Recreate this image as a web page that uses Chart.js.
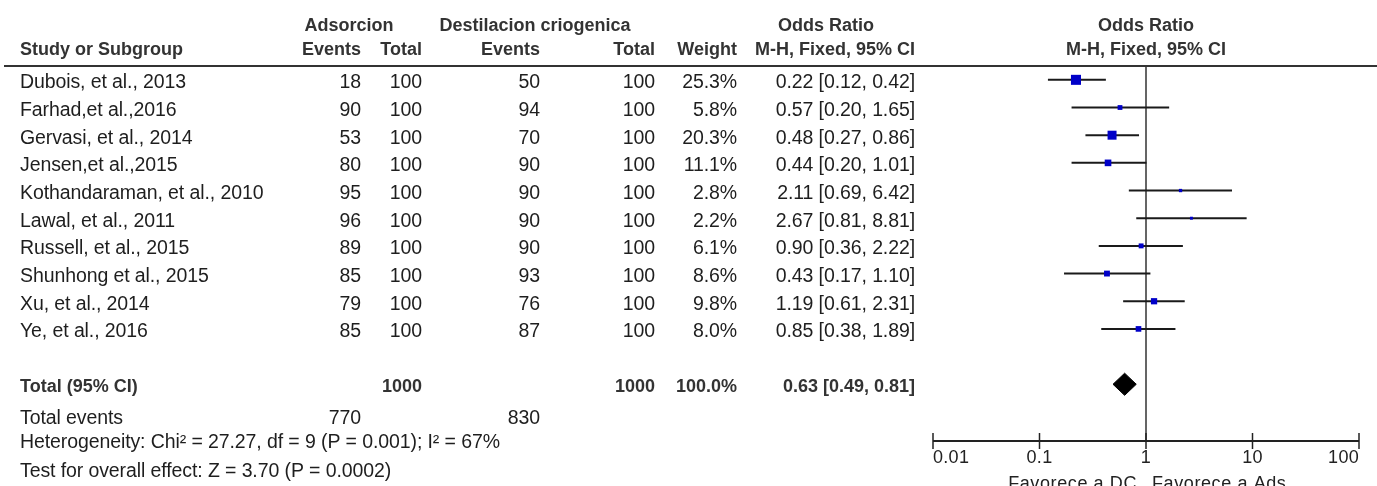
<!DOCTYPE html>
<html><head><meta charset="utf-8">
<script src="https://cdn.jsdelivr.net/npm/chart.js@4.4.1/dist/chart.umd.min.js"></script>
<style>html,body{margin:0;padding:0;background:#fff;overflow:hidden}canvas{display:block}</style>
</head><body>
<canvas id="c" width="1377" height="486"></canvas>
<script>
// ---- data ----
const studies = ["Dubois, et al., 2013","Farhad,et al.,2016","Gervasi, et al., 2014","Jensen,et al.,2015","Kothandaraman, et al., 2010","Lawal, et al., 2011","Russell, et al., 2015","Shunhong et al., 2015","Xu, et al., 2014","Ye, et al., 2016"];
const adsEvents = [18,90,53,80,95,96,89,85,79,85];
const adsTotal = [100,100,100,100,100,100,100,100,100,100];
const dcEvents = [50,94,70,90,90,90,90,93,76,87];
const dcTotal = [100,100,100,100,100,100,100,100,100,100];
const weights = [25.3,5.8,20.3,11.1,2.8,2.2,6.1,8.6,9.8,8.0];
const oddsRatio = [0.22,0.57,0.48,0.44,2.11,2.67,0.90,0.43,1.19,0.85];
const ciLow = [0.12,0.20,0.27,0.20,0.69,0.81,0.36,0.17,0.61,0.38];
const ciHigh = [0.42,1.65,0.86,1.01,6.42,8.81,2.22,1.10,2.31,1.89];
const totalLabel = "Total (95% CI)";
const totalAdsN = 1000, totalDcN = 1000, totalWeight = 100.0;
const totalOR = 0.63, totalLow = 0.49, totalHigh = 0.81;
const totalAdsEvents = 770, totalDcEvents = 830;
const heterogeneityText = "Heterogeneity: Chi\u00B2 = 27.27, df = 9 (P = 0.001); I\u00B2 = 67%";
const overallEffectText = "Test for overall effect: Z = 3.70 (P = 0.0002)";
const xTicks = [0.01, 0.1, 1, 10, 100];
const xTickLabels = ["0.01","0.1","1","10","100"];
const favourLeft = "Favorece a DC", favourRight = "Favorece a Ads";
const groupHeaders = ["Adsorcion","Destilacion criogenica","Odds Ratio"];
const colHeaders = ["Study or Subgroup","Events","Total","Events","Total","Weight","M-H, Fixed, 95% CI"];

// ---- layout ----
const TOTAL_ROW = studies.length + 1;
const FONT = '"Liberation Sans", Arial, sans-serif';
const COL = {study:20, adsEv:361, adsTot:422, dcEv:540, dcTot:655, weight:737, or:915, adsHead:349, dcHead:535, orHead:826};
const fmt2 = v => v.toFixed(2);
const orText = (o,l,h) => fmt2(o) + " [" + fmt2(l) + ", " + fmt2(h) + "]";

const datasets = [];
datasets.push({
  label:"OR", data: oddsRatio.map((v,i)=>({x:v,y:i})),
  pointStyle:"rect", backgroundColor:"#0000c8", borderWidth:0,
  pointRadius: c => 1.41*Math.sqrt(weights[c.dataIndex] || 0), showLine:false
});
datasets.push({
  label:"Total", showLine:true, pointRadius:0, borderColor:"#000", backgroundColor:"#000", borderWidth:1, fill:"shape",
  data:[{x:totalLow,y:TOTAL_ROW},{x:totalOR,y:TOTAL_ROW-0.4},{x:totalHigh,y:TOTAL_ROW},{x:totalOR,y:TOTAL_ROW+0.4},{x:totalLow,y:TOTAL_ROW}]
});
studies.forEach((s,i)=>{
  datasets.push({label:"CI "+s, showLine:true, pointRadius:0, borderColor:"#1a1a1a", borderWidth:2,
    data:[{x:ciLow[i],y:i},{x:ciHigh[i],y:i}]});
});
datasets.push({label:"null", showLine:true, pointRadius:0, borderColor:"#333", borderWidth:1.5,
  data:[{x:1,y:-0.5},{x:1,y:13.05}]});

const tablePlugin = {
  id:"forestTable",
  afterDraw(chart){
    const ctx = chart.ctx, xs = chart.scales.x, ys = chart.scales.y, a = chart.chartArea;
    const txt = (s,x,yv,align,bold,dy) => {
      ctx.font = (bold?"bold 18px ":"19.5px ") + FONT;
      ctx.letterSpacing = bold ? "0px" : "-0.1px";
      ctx.textAlign = align; ctx.textBaseline = "middle";
      ctx.fillStyle = bold ? "#333" : "#1e1e1e";
      ctx.fillText(s, x, ys.getPixelForValue(yv) + (dy||0));
    };
    ctx.save();
    // header line
    ctx.strokeStyle = "#333"; ctx.lineWidth = 2;
    ctx.beginPath(); ctx.moveTo(4, a.top); ctx.lineTo(1377, a.top); ctx.stroke();
    // headers
    const h1 = -2.0, h2 = -1.13, hd = 1.5;
    const pc = xs.getPixelForValue(1);
    txt(groupHeaders[0], COL.adsHead, h1, "center", true, hd);
    txt(groupHeaders[1], COL.dcHead, h1, "center", true, hd);
    txt(groupHeaders[2], COL.orHead, h1, "center", true, hd);
    txt(groupHeaders[2], pc, h1, "center", true, hd);
    txt(colHeaders[0], COL.study, h2, "left", true, hd);
    txt(colHeaders[1], COL.adsEv, h2, "right", true, hd);
    txt(colHeaders[2], COL.adsTot, h2, "right", true, hd);
    txt(colHeaders[3], COL.dcEv, h2, "right", true, hd);
    txt(colHeaders[4], COL.dcTot, h2, "right", true, hd);
    txt(colHeaders[5], COL.weight, h2, "right", true, hd);
    txt(colHeaders[6], COL.or, h2, "right", true, hd);
    txt(colHeaders[6], pc, h2, "center", true, hd);
    // rows
    const rd = 3;
    studies.forEach((s,i)=>{
      txt(s, COL.study, i, "left", false, rd);
      txt(String(adsEvents[i]), COL.adsEv, i, "right", false, rd);
      txt(String(adsTotal[i]), COL.adsTot, i, "right", false, rd);
      txt(String(dcEvents[i]), COL.dcEv, i, "right", false, rd);
      txt(String(dcTotal[i]), COL.dcTot, i, "right", false, rd);
      txt(weights[i].toFixed(1)+"%", COL.weight, i, "right", false, rd);
      txt(orText(oddsRatio[i],ciLow[i],ciHigh[i]), COL.or, i, "right", false, rd);
    });
    // total
    txt(totalLabel, COL.study, TOTAL_ROW, "left", true, 2.5);
    txt(String(totalAdsN), COL.adsTot, TOTAL_ROW, "right", true, 2.5);
    txt(String(totalDcN), COL.dcTot, TOTAL_ROW, "right", true, 2.5);
    txt(totalWeight.toFixed(1)+"%", COL.weight, TOTAL_ROW, "right", true, 2.5);
    txt(orText(totalOR,totalLow,totalHigh), COL.or, TOTAL_ROW, "right", true, 2.5);
    txt("Total events", COL.study, 12.17, "left", false, 1.5);
    txt(String(totalAdsEvents), COL.adsEv, 12.17, "right", false, 1.5);
    txt(String(totalDcEvents), COL.dcEv, 12.17, "right", false, 1.5);
    txt(heterogeneityText, COL.study, 13.07, "left", false, 1.5);
    txt(overallEffectText, COL.study, 14.1, "left", false, 1.5);
    // axis
    const ay = a.bottom;
    const x0 = xs.getPixelForValue(xTicks[0]), x1 = xs.getPixelForValue(xTicks[xTicks.length-1]);
    ctx.strokeStyle = "#222"; ctx.lineWidth = 2;
    ctx.beginPath(); ctx.moveTo(x0, ay); ctx.lineTo(x1, ay); ctx.stroke();
    ctx.lineWidth = 1.5;
    xs.ticks.forEach((t,i)=>{
      const px = xs.getPixelForValue(t.value);
      ctx.beginPath(); ctx.moveTo(px, ay-8); ctx.lineTo(px, ay+8); ctx.stroke();
      ctx.font = "18px " + FONT; ctx.letterSpacing = "0.3px";
      ctx.fillStyle = "#222"; ctx.textBaseline = "middle";
      ctx.textAlign = i===0 ? "left" : (i===xs.ticks.length-1 ? "right" : "center");
      ctx.fillText(xTickLabels[i], px, ay+17);
    });
    ctx.font = "18px " + FONT; ctx.letterSpacing = "0.6px"; ctx.fillStyle = "#222"; ctx.textBaseline = "top";
    ctx.textAlign = "right"; ctx.fillText(favourLeft, pc-9, ay+34);
    ctx.textAlign = "left"; ctx.fillText(favourRight, pc+6, ay+34);
    ctx.restore();
  }
};

new Chart(document.getElementById("c"), {
  type:"scatter",
  data:{datasets},
  options:{
    responsive:false, animation:false, devicePixelRatio:1,
    layout:{padding:{left:933, right:18, top:66, bottom:45}},
    plugins:{legend:{display:false}, tooltip:{enabled:false}},
    scales:{
      x:{type:"logarithmic", min:xTicks[0], max:xTicks[xTicks.length-1], display:false,
         afterBuildTicks: s => { s.ticks = xTicks.map(v=>({value:v})); }},
      y:{type:"linear", reverse:true, min:-0.5, max:13.05, display:false}
    }
  },
  plugins:[tablePlugin]
});
</script>
</body></html>
